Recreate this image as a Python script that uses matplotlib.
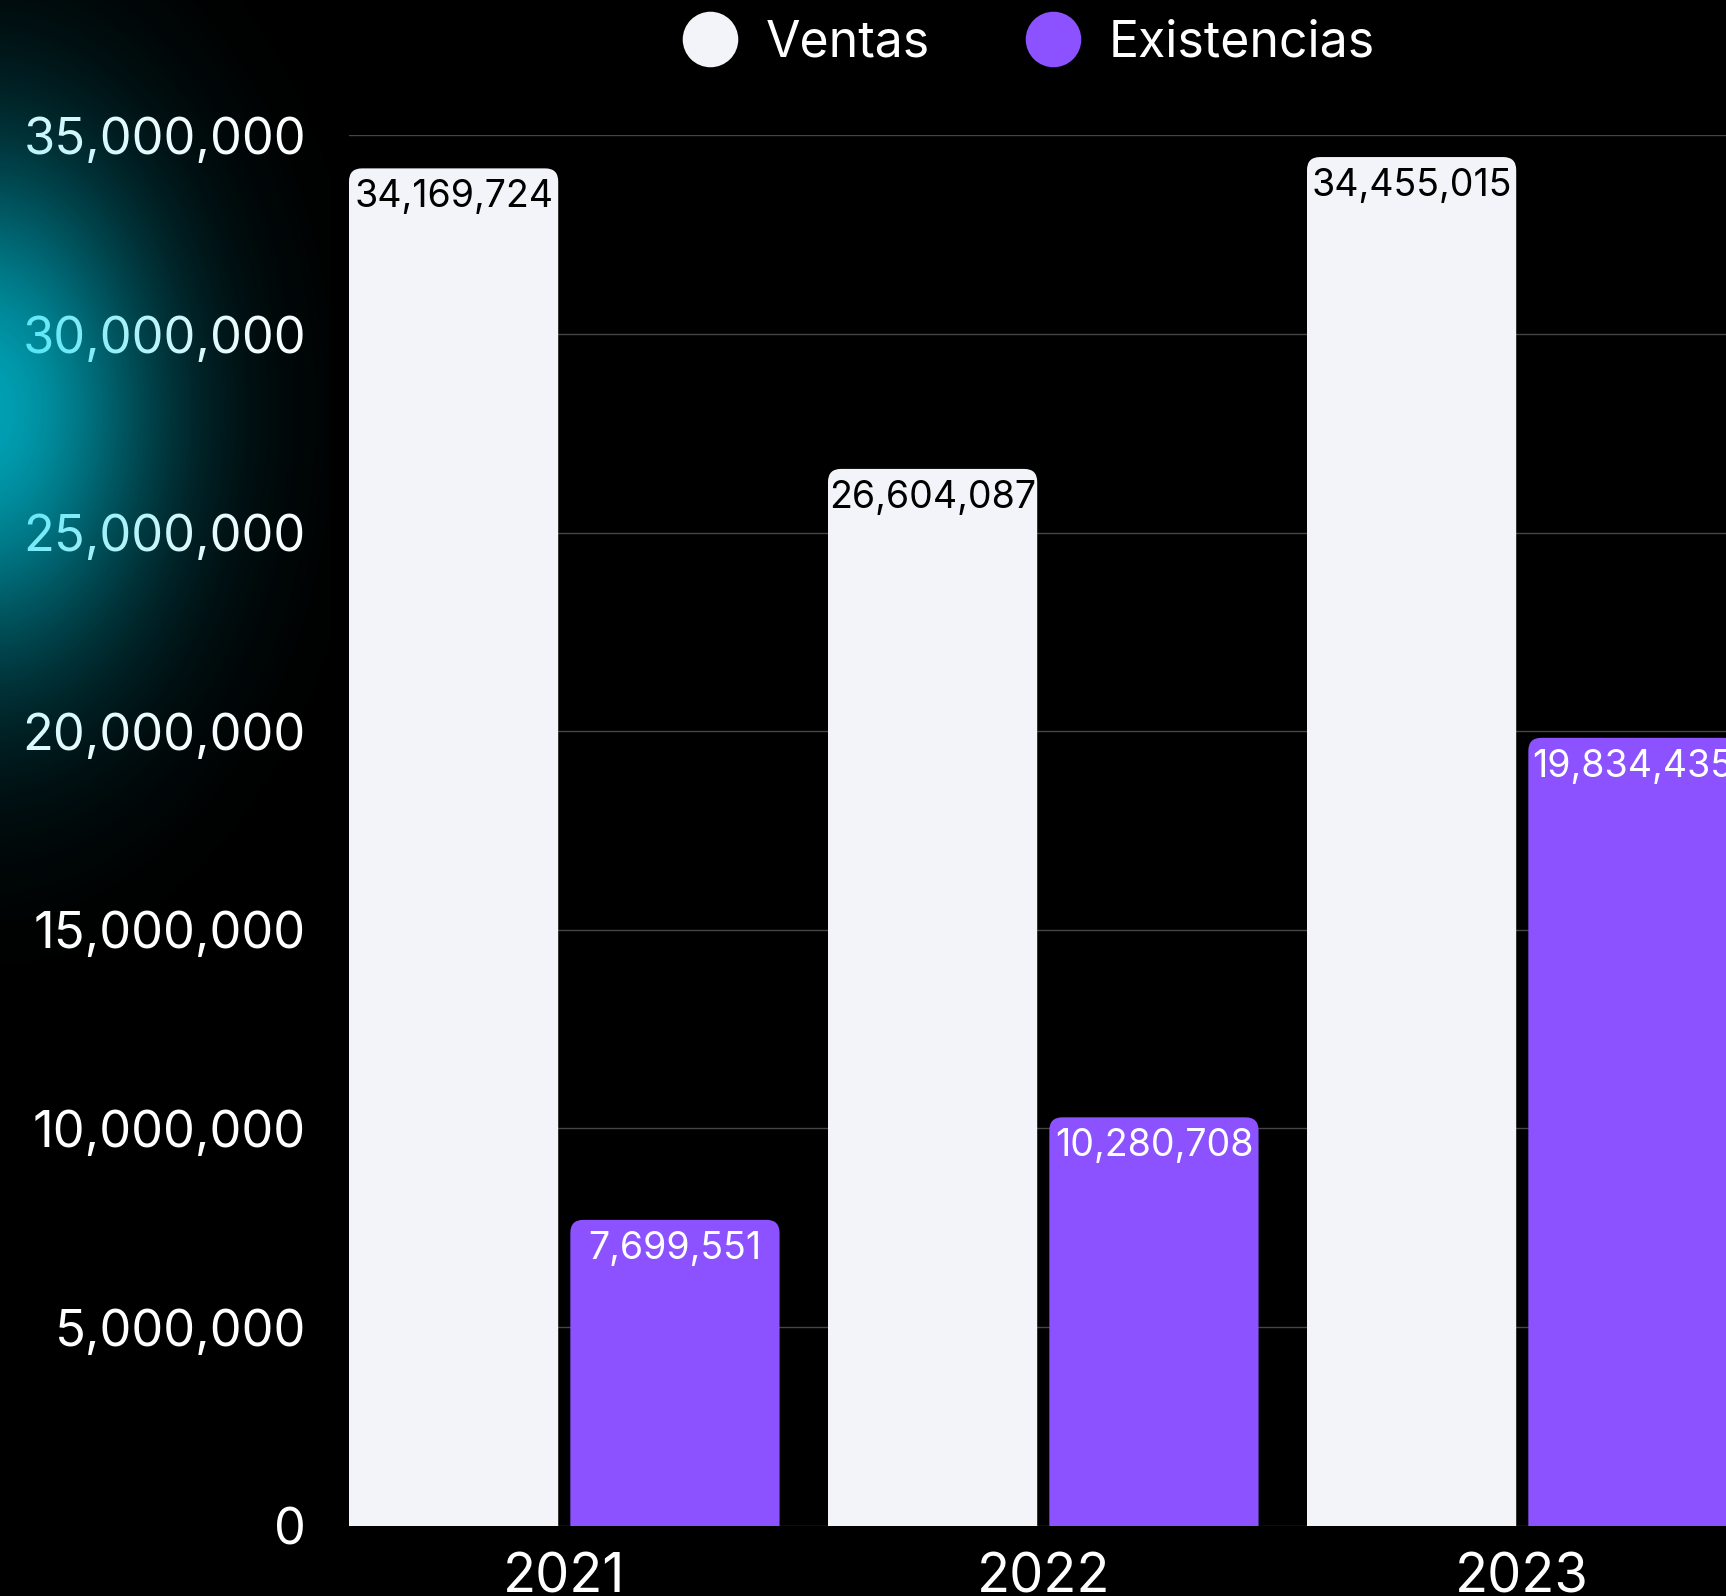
import numpy as np
import matplotlib
matplotlib.use("Agg")
import matplotlib.pyplot as plt
from matplotlib.patches import FancyBboxPatch
from matplotlib.lines import Line2D
from matplotlib.ticker import FuncFormatter

years = ["2021", "2022", "2023"]
ventas = [34169724, 26604087, 34455015]
existencias = [7699551, 10280708, 19834435]
series_names = ["Ventas", "Existencias"]

W, H = 1726, 1596
DPI = 100
c_ventas = "#f3f4f9"
c_exist = "#8c52ff"
grid_c = "#454545"

plt.rcParams["font.family"] = ["Inter", "DejaVu Sans"]

fig = plt.figure(figsize=(W / DPI, H / DPI), dpi=DPI, facecolor="black")

ax_left, ax_bot, ax_top = 349, 1525.7, 135.4
ax = fig.add_axes([ax_left / W, 1 - ax_bot / H, 1 - ax_left / W, (ax_bot - ax_top) / H])
ax.set_facecolor("black")

band_px = 479.0
bar_w = 190 / 435
gap = 11 / 435
off = bar_w / 2 + gap / 2
x = np.arange(len(years))
xmin = -off - bar_w / 2
ax.set_xlim(xmin, xmin + (W - ax_left) / band_px)
ax.set_ylim(0, 35e6)

ax.yaxis.set_major_locator(matplotlib.ticker.MultipleLocator(5e6))
ax.yaxis.set_major_formatter(FuncFormatter(lambda v, p: f"{int(v):,}"))
ax.grid(axis="y", color=grid_c, linewidth=1.0)
ax.set_axisbelow(True)
for s in ax.spines.values():
    s.set_visible(False)
ax.tick_params(axis="y", length=0, pad=31, labelsize=36.5, labelcolor="white")
ax.tick_params(axis="x", length=0, pad=19, labelsize=39, labelcolor="white")
ax.set_xticks(x)
ax.set_xticklabels(years)

# rounded top corners: radius in pixels -> data units
r_px = 13
ppy = (ax_bot - ax_top) / 35e6
rx = r_px / band_px
ry = r_px / ppy

def rounded_bars(bars, color):
    for b in bars:
        bx, bw, bh = b.get_x(), b.get_width(), b.get_height()
        b.set_visible(False)
        p = FancyBboxPatch((bx, -ry * 2), bw, bh + ry * 2,
                           boxstyle=f"round,pad=0,rounding_size={rx}",
                           mutation_aspect=ry / rx, facecolor=color,
                           edgecolor="none", zorder=3)
        ax.add_patch(p)

b1 = ax.bar(x - off, ventas, bar_w, color=c_ventas)
b2 = ax.bar(x + off, existencias, bar_w, color=c_exist)
rounded_bars(b1, c_ventas)
rounded_bars(b2, c_exist)

for xi, v in zip(x - off, ventas):
    ax.annotate(f"{v:,}", (xi, v), xytext=(0, -8), textcoords="offset points",
                ha="center", va="top", fontsize=27, color="black", zorder=4)
for xi, v in zip(x + off, existencias):
    ax.annotate(f"{v:,}", (xi, v), xytext=(0, -8), textcoords="offset points",
                ha="center", va="top", fontsize=27, color="white", zorder=4,
                annotation_clip=False)

handles = [Line2D([], [], marker="o", linestyle="none", markersize=40,
                  markerfacecolor=c, markeredgecolor="none")
           for c in (c_ventas, c_exist)]
fig.legend(handles, series_names, loc="center", bbox_to_anchor=(1030 / W, 1 - 43 / H),
           ncol=2, frameon=False, fontsize=36, labelcolor="white",
           handletextpad=0.62, columnspacing=1.95, handlelength=1.0)

# cyan glow on the left edge
yy, xx = np.mgrid[0:H, 0:W]
alpha = 0.75 * np.exp(-(((xx + 20) / 180.0) ** 2 + ((yy - 410) / 260.0) ** 2))
alpha[:, 330:] = 0
glow = np.zeros((H, W, 4))
glow[..., 1] = 0.85
glow[..., 2] = 0.95
glow[..., 3] = alpha
ov = fig.add_axes([0, 0, 1, 1], zorder=10)
ov.imshow(glow, extent=(0, W, H, 0), aspect="auto", interpolation="none")
ov.set_xlim(0, W)
ov.set_ylim(H, 0)
ov.axis("off")
ov.patch.set_visible(False)

fig.savefig("out.png", dpi=DPI, facecolor="black")
